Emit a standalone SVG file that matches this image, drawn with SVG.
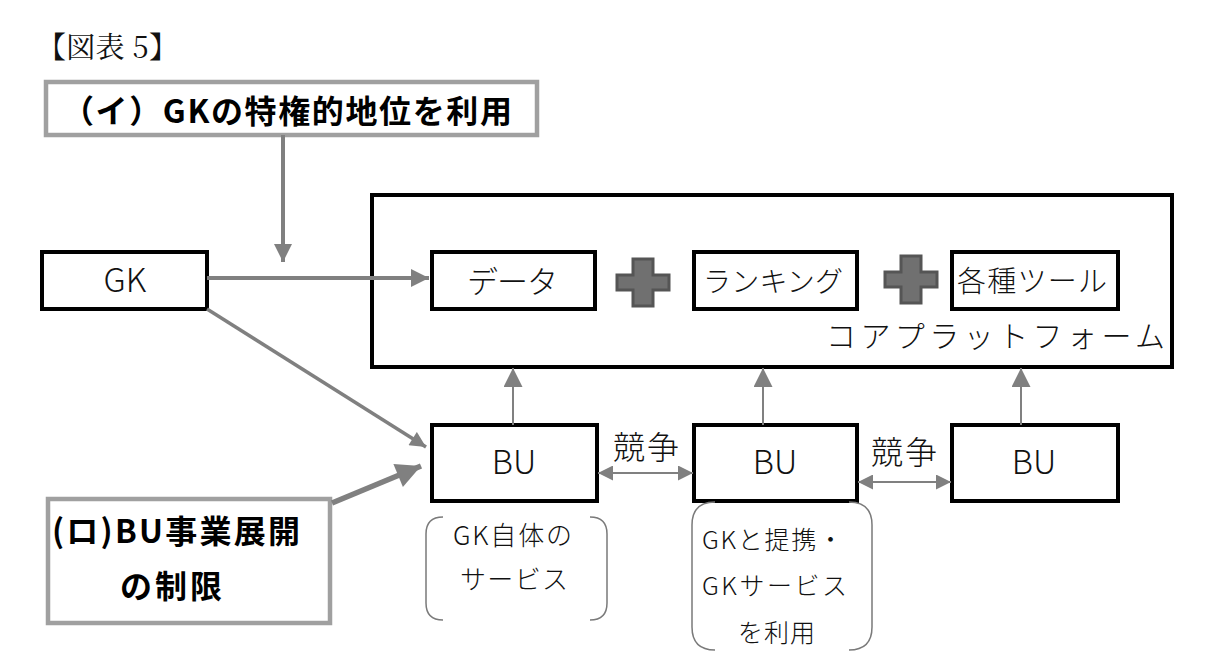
<svg xmlns="http://www.w3.org/2000/svg" width="1218" height="671" viewBox="0 0 1218 671">
<defs>
<style>
.t{font-family:"Noto Sans CJK JP","Noto Sans",sans-serif;font-weight:300;fill:#111}
.b{font-family:"Noto Sans CJK JP","Noto Sans",sans-serif;font-weight:700;fill:#000}
.box{fill:#fff;stroke:#000;stroke-width:4}
.gbox{fill:#fff;stroke:#a0a0a0;stroke-width:4.5}
.plus{fill:#707070;stroke:#555;stroke-width:3}
.c{fill:none;stroke:#808080}
.br{fill:none;stroke:#7a7a7a;stroke-width:1.5}
</style>
<marker id="ah" viewBox="0 0 10 10" refX="10" refY="5" markerWidth="5" markerHeight="4.5" markerUnits="strokeWidth" orient="auto-start-reverse"><path d="M0,0 L10,5 L0,10 z" fill="#808080"/></marker>
<marker id="ahs" viewBox="0 0 10 10" refX="10" refY="5" markerWidth="9.5" markerHeight="9.5" markerUnits="strokeWidth" orient="auto-start-reverse"><path d="M0,0 L10,5 L0,10 z" fill="#808080"/></marker>
<marker id="ahd" viewBox="0 0 10 10" refX="10" refY="5" markerWidth="9" markerHeight="7.5" markerUnits="strokeWidth" orient="auto-start-reverse"><path d="M0,0 L10,5 L0,10 z" fill="#808080"/></marker>
</defs>
<rect width="1218" height="671" fill="#fff"/>
<text x="37" y="58" font-family="'Noto Serif CJK JP','Noto Sans CJK JP',serif" font-size="29" textLength="141" lengthAdjust="spacing" fill="#111">【図表 5】</text>

<g id="core">
<rect class="box" x="372" y="195" width="800" height="172"/>
<text class="t" x="826" y="347" font-size="30" textLength="339" lengthAdjust="spacing">コアプラットフォーム</text>
</g>
<g id="gk"><rect class="box" x="42" y="252" width="165" height="57"/><text class="t" x="125" y="292" font-size="33" text-anchor="middle">GK</text></g>
<g id="data"><rect class="box" x="432" y="252" width="163" height="57"/><text class="t" x="467" y="293" font-size="31" textLength="91" lengthAdjust="spacing">データ</text></g>
<g id="plus1"><path class="plus" d="M633,259 h20 v16 h16 v15 h-16 v16 h-20 v-16 h-16 v-15 h16 z"/></g>
<g id="ranking"><rect class="box" x="694" y="252" width="163" height="57"/><text class="t" x="703" y="292" font-size="28" textLength="140" lengthAdjust="spacing">ランキング</text></g>
<g id="plus2"><path class="plus" d="M901,256 h20 v16 h16 v15 h-16 v16 h-20 v-16 h-16 v-15 h16 z"/></g>
<g id="tools"><rect class="box" x="952" y="252" width="166" height="57"/><text class="t" x="957" y="292" font-size="29" textLength="150" lengthAdjust="spacing">各種ツール</text></g>

<g id="bu1"><rect class="box" x="432" y="425" width="165" height="76"/><text class="t" x="514" y="474" font-size="33" text-anchor="middle">BU</text></g>
<g id="bu2"><rect class="box" x="694" y="425" width="163" height="76"/><text class="t" x="775" y="474" font-size="33" text-anchor="middle">BU</text></g>
<g id="bu3"><rect class="box" x="952" y="425" width="166" height="76"/><text class="t" x="1034" y="474" font-size="33" text-anchor="middle">BU</text></g>

<g id="labelI"><rect class="gbox" x="46" y="82" width="491" height="53"/><text class="b" x="62" y="123" font-size="32" textLength="450" lengthAdjust="spacing">（イ）GKの特権的地位を利用</text></g>
<g id="labelRo"><rect class="gbox" x="48" y="499" width="282" height="124"/><text class="b" x="52" y="543" font-size="32" textLength="248" lengthAdjust="spacing">(ロ)BU事業展開</text><text class="b" x="120" y="598" font-size="32" textLength="102" lengthAdjust="spacing">の制限</text></g>

<g id="note1">
<path class="br" d="M443,517 Q426,517 426,534 L426,603 Q426,620 443,620"/>
<path class="br" d="M590,517 Q607,517 607,534 L607,603 Q607,620 590,620"/>
<text class="t" x="453" y="545" font-size="26" textLength="119" lengthAdjust="spacing">GK自体の</text>
<text class="t" x="460" y="589" font-size="26" textLength="108" lengthAdjust="spacing">サービス</text>
</g>
<g id="note2">
<path class="br" d="M715,502 Q692,502 692,525 L692,627 Q692,650 715,650"/>
<path class="br" d="M849,502 Q872,502 872,525 L872,627 Q872,650 849,650"/>
<text class="t" x="702" y="549" font-size="25" textLength="141" lengthAdjust="spacing">GKと提携・</text>
<text class="t" x="702" y="595" font-size="25" textLength="145" lengthAdjust="spacing">GKサービス</text>
<text class="t" x="738" y="642" font-size="25" textLength="77" lengthAdjust="spacing">を利用</text>
</g>

<g id="connectors">
<line class="c" x1="283" y1="135" x2="283" y2="262" stroke-width="4" marker-end="url(#ah)"/>
<line class="c" x1="207" y1="278" x2="429" y2="278" stroke-width="4" marker-end="url(#ah)"/>
<line class="c" x1="207" y1="309" x2="426" y2="447" stroke-width="3.5" marker-end="url(#ah)"/>
<line class="c" x1="332" y1="503" x2="421" y2="466" stroke-width="5.5" marker-end="url(#ah)"/>
<line class="c" x1="513" y1="425" x2="513" y2="368" stroke-width="2" marker-end="url(#ahs)"/>
<line class="c" x1="763" y1="425" x2="763" y2="368" stroke-width="2" marker-end="url(#ahs)"/>
<line class="c" x1="1021" y1="425" x2="1021" y2="368" stroke-width="2" marker-end="url(#ahs)"/>
<line class="c" x1="598" y1="473" x2="693" y2="473" stroke-width="2" marker-start="url(#ahd)" marker-end="url(#ahd)"/>
<line class="c" x1="858" y1="482" x2="951" y2="482" stroke-width="2" marker-start="url(#ahd)" marker-end="url(#ahd)"/>
</g>
<g id="labels">
<text class="t" x="613" y="459" font-size="32" textLength="66" lengthAdjust="spacing">競争</text>
<text class="t" x="871" y="464" font-size="32" textLength="66" lengthAdjust="spacing">競争</text>
</g>
</svg>
